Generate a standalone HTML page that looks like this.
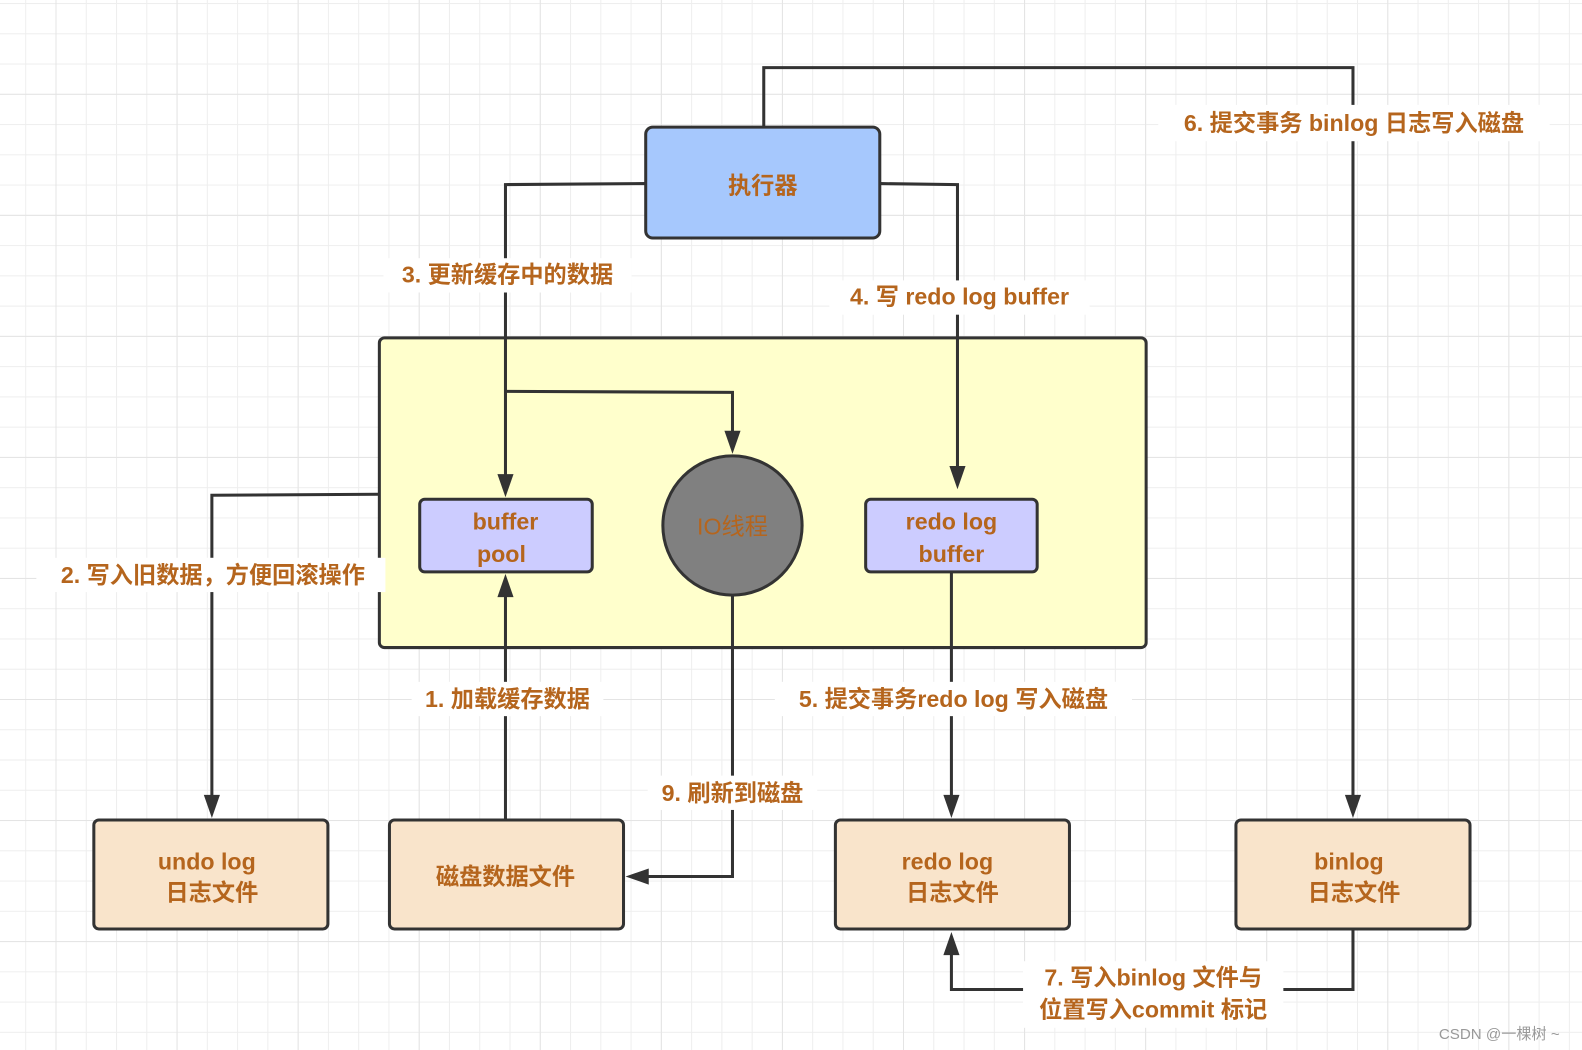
<!DOCTYPE html>
<html><head><meta charset="utf-8"><style>
html,body{margin:0;padding:0;background:#fff}
svg{display:block}
text{font-family:"Liberation Sans","Noto Sans CJK SC",sans-serif;font-size:23px;font-weight:bold;fill:#b5651d;text-anchor:middle}
</style></head><body>
<svg width="1582" height="1050" viewBox="0 0 1568 1041" preserveAspectRatio="none" xmlns="http://www.w3.org/2000/svg">
<defs>
<pattern id="g" x="25" y="3" width="30" height="30" patternUnits="userSpaceOnUse">
<path d="M0 0V30M0 0H30" stroke="#eeeeee" stroke-width="2" fill="none"/>
</pattern>
<pattern id="G" x="55" y="93" width="120" height="120" patternUnits="userSpaceOnUse">
<path d="M0 0V120M0 0H120" stroke="#e4e4e4" stroke-width="2" fill="none"/>
</pattern>
</defs>
<rect width="1568" height="1041" fill="url(#g)"/>
<rect width="1568" height="1041" fill="url(#G)"/>

<g stroke="#333" stroke-width="3" fill="none">
<rect x="376" y="335" width="760" height="307" rx="5" fill="#ffffcc"/>
<polyline points="757,126 757,67 1341,67 1341,795"/>
<polyline points="640,182 501,183 501,475"/>
<polyline points="501,388 726,389 726,432"/>
<polyline points="872,182 949,183 949,467"/>
<polyline points="376,490 210,491 210,793"/>
<polyline points="501,813 501,588"/>
<polyline points="726,591 726,869 640,869"/>
<polyline points="943,567 943,793"/>
<polyline points="1341,921 1341,981 943,981 943,943"/>
</g>
<g fill="#333">
<polygon points="1341,811 1333,788 1349,788"/>
<polygon points="501,493 493,470 509,470"/>
<polygon points="726,450 718,427 734,427"/>
<polygon points="949,485 941,462 957,462"/>
<polygon points="210,811 202,788 218,788"/>
<polygon points="501,569 493,592 509,592"/>
<polygon points="620,869 643,861 643,877"/>
<polygon points="943,811 935,788 951,788"/>
<polygon points="943,924 935,947 951,947"/>
</g>

<g stroke="#333" stroke-width="3">
<rect x="640" y="126" width="232" height="110" rx="7" fill="#a6c8fd"/>
<rect x="416" y="495" width="171" height="72" rx="5" fill="#ccccff"/>
<circle cx="726" cy="521" r="69" fill="#808080"/>
<rect x="858" y="495" width="170" height="72" rx="5" fill="#ccccff"/>
<rect x="93" y="813" width="232" height="108" rx="5" fill="#f9e4cb"/>
<rect x="386" y="813" width="232" height="108" rx="5" fill="#f9e4cb"/>
<rect x="828" y="813" width="232" height="108" rx="5" fill="#f9e4cb"/>
<rect x="1225" y="813" width="232" height="108" rx="5" fill="#f9e4cb"/>
</g>

<text x="756" y="192">执行器</text>
<text x="501" y="525">buffer</text>
<text x="497" y="557">pool</text>
<text x="726" y="530" style="font-weight:normal">IO线程</text>
<text x="943" y="525">redo log</text>
<text x="943" y="557">buffer</text>
<text x="205" y="862">undo log</text>
<text x="210" y="893">日志文件</text>
<text x="501" y="877">磁盘数据文件</text>
<text x="939" y="862">redo log</text>
<text x="944" y="893">日志文件</text>
<text x="1337" y="862">binlog</text>
<text x="1342" y="893">日志文件</text>

<g fill="#fff">
<rect x="380" y="256" width="246" height="34"/>
<rect x="822" y="278" width="258" height="34"/>
<rect x="1148" y="104" width="388" height="36"/>
<rect x="36" y="553" width="346" height="34"/>
<rect x="408" y="676" width="190" height="34"/>
<rect x="768" y="676" width="354" height="34"/>
<rect x="642" y="769" width="168" height="34"/>
<rect x="1014" y="953" width="258" height="66"/>
</g>
<text x="503" y="280">3. 更新缓存中的数据</text>
<text x="951" y="302">4. 写 redo log buffer</text>
<text x="1342" y="130">6. 提交事务 binlog 日志写入磁盘</text>
<text x="211" y="578">2. 写入旧数据，方便回滚操作</text>
<text x="503" y="701">1. 加载缓存数据</text>
<text x="945" y="701">5. 提交事务redo log 写入磁盘</text>
<text x="726" y="794">9. 刷新到磁盘</text>
<text x="1143" y="977">7. 写入binlog 文件与</text>
<text x="1143" y="1009">位置写入commit 标记</text>
<text x="1486" y="1030" style="font-size:15px;font-weight:normal;fill:#999">CSDN @一棵树 ~</text>
</svg>
</body></html>
